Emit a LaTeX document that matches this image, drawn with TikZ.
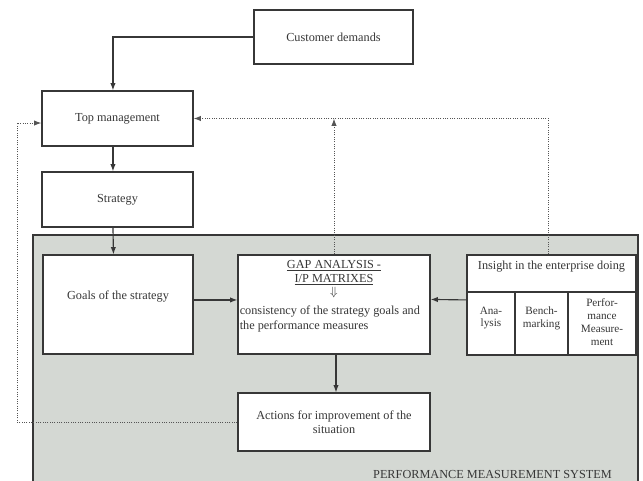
\documentclass[tikz,border=0pt]{standalone}
\usepackage{fontspec}
\setmainfont{Liberation Serif}
\usetikzlibrary{arrows.meta,fit,calc}
\definecolor{pmsgray}{RGB}{212,216,211}
\definecolor{ink}{RGB}{55,55,55}
\definecolor{dotc}{RGB}{85,85,85}
\begin{document}
\begin{tikzpicture}[x=0.75pt,y=-0.75pt,
  box/.style={draw=ink,line width=0.85pt,fill=white,inner sep=0pt},
  txt/.style={inner sep=0pt,text=ink,font=\fontsize{9.2}{10.6}\selectfont},
  small/.style={inner sep=0pt,text=ink,align=center,font=\fontsize{8.4}{9.6}\selectfont},
  arr/.style={draw=ink,line width=0.85pt,-{Latex[length=5.5pt,width=4pt]}},
  fb/.style={draw=dotc,line width=0.75pt,densely dotted,-{Latex[length=5.5pt,width=4pt]}}]
\useasboundingbox[fill=white] (0,0) rectangle (643,481);
% performance measurement system area
\path[fill=pmsgray,draw=ink,line width=0.85pt] (33,235) rectangle (638,490);
\node[txt,anchor=east] (pms) at (612,474) {PERFORMANCE MEASUREMENT SYSTEM};
% boxes
\coordinate (c1) at (254,10);  \coordinate (c2) at (413,64);
\node[box,fit=(c1)(c2)] (cust) {};
\node[txt] (custt) at (cust.center) {Customer demands};
\coordinate (t1) at (42,91);   \coordinate (t2) at (193,146);
\node[box,fit=(t1)(t2)] (top) {};
\node[txt] (topt) at (top.center) {Top management};
\coordinate (s1) at (42,172);  \coordinate (s2) at (193,227);
\node[box,fit=(s1)(s2)] (strat) {};
\node[txt] (stratt) at (strat.center) {Strategy};
\coordinate (g1) at (43,255);  \coordinate (g2) at (193,354);
\node[box,fit=(g1)(g2)] (goals) {};
\node[txt] (goalst) at (118,297) {Goals of the strategy};
\coordinate (p1) at (238,255); \coordinate (p2) at (430,354);
\node[box,fit=(p1)(p2)] (gap) {};
\node[txt,align=center] (gapt) at (334,279) {\underline{GAP ANALYSIS -}\\\underline{I/P MATRIXES}\\[-1pt]$\Downarrow$};
\node[txt,align=left,anchor=west] (gapc) at (239.5,319) {consistency of the strategy goals and\\the performance measures};
\coordinate (i1) at (467,255); \coordinate (i2) at (636,355);
\node[box,fit=(i1)(i2)] (ins) {};
\node[txt] (inst) at (551.5,267) {Insight in the enterprise doing};
\draw[draw=ink,line width=0.85pt] (467,292) -- (636,292) (515,292) -- (515,355) (568,292) -- (568,355);
\node[small] (ana) at (491,318) {Ana-\\lysis};
\node[small] (bench) at (541.5,318) {Bench-\\marking};
\node[small] (perf) at (602,322) {Perfor-\\mance\\Measure-\\ment};
\coordinate (a1) at (238,393); \coordinate (a2) at (430,451);
\node[box,fit=(a1)(a2)] (act) {};
\node[txt,align=center] (actt) at (act.center) {Actions for improvement of the\\situation};
% connectors
\draw[arr] (cust.west) -| ([xshift=-3.4pt]top.north);
\draw[arr] ([xshift=-3.4pt]top.south) -- ([xshift=-3.4pt]strat.north);
\draw[arr] ([xshift=-3.4pt]strat.south) -- ([xshift=-3.4pt]goals.north);
\draw[arr] ([yshift=3.4pt]goals.east) -- ([yshift=3.4pt]gap.west);
\draw[arr] ([yshift=3.8pt]ins.west) -- ([yshift=3.8pt]gap.west -| gap.east);
\draw[arr] ([xshift=1.5pt]gap.south) -- ([xshift=1.5pt]act.north);
% feedback (dotted)
\coordinate (lft) at (17,0);
\draw[fb] (act.west) -- (act.west -| lft) |- ([yshift=-3.4pt]top.west);
\draw[fb] (gap.north) -- (gap.north |- top.east);
\draw[fb] ([xshift=-2.6pt]ins.north) |- (top.east);
\end{tikzpicture}
\end{document}
